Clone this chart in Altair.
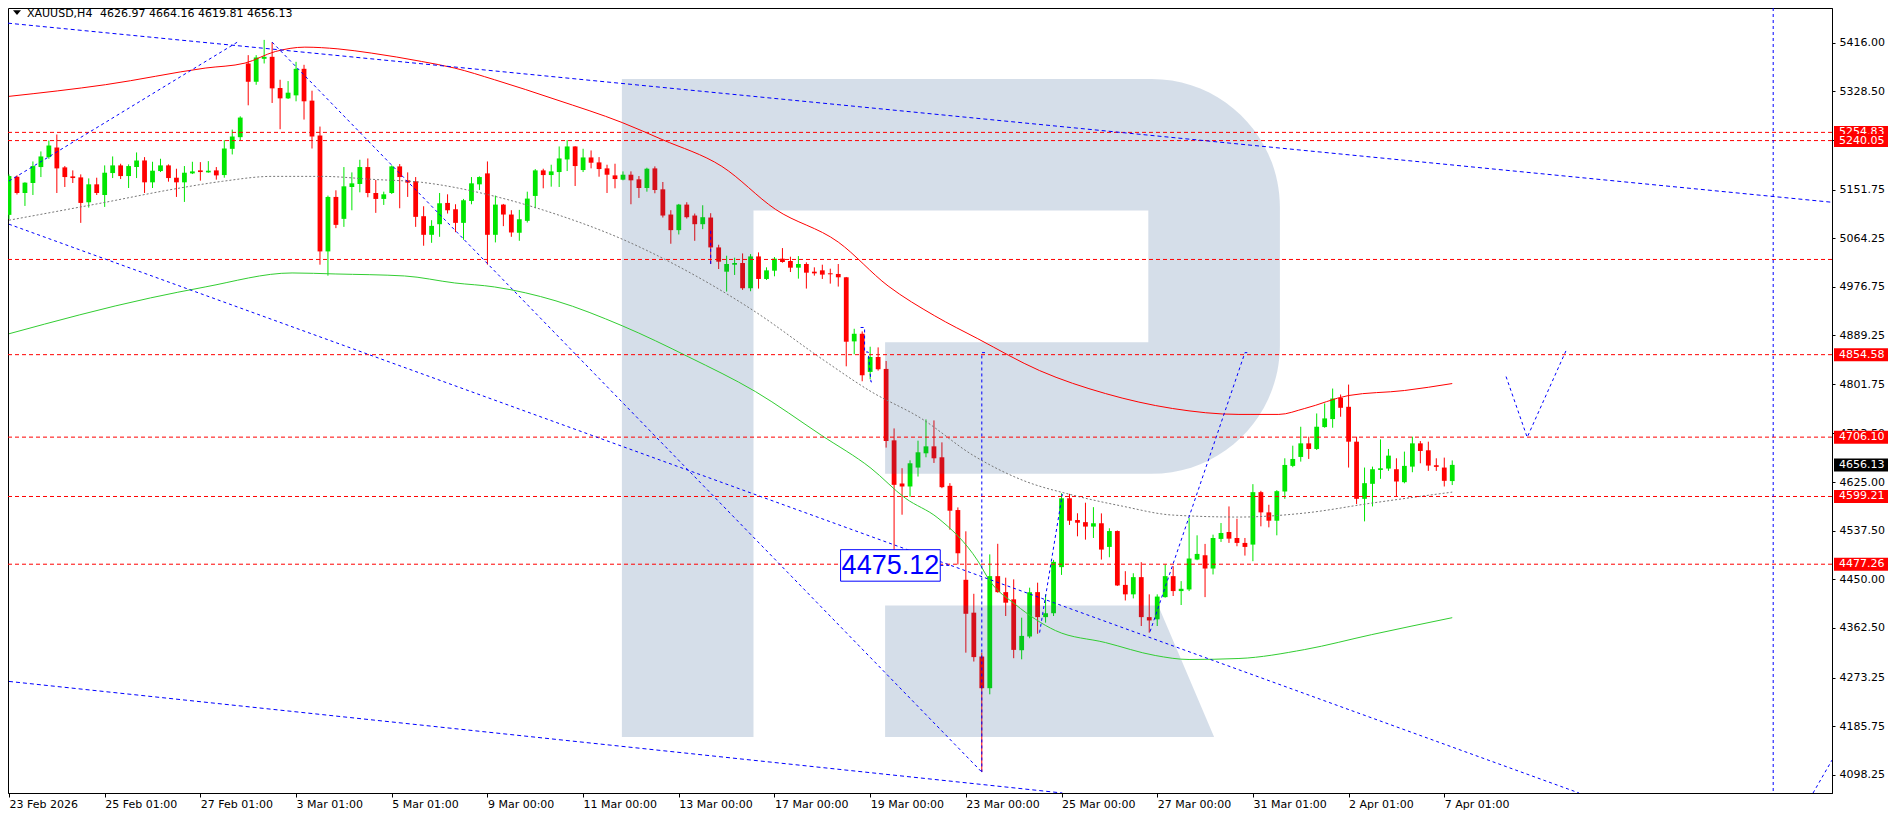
import json
import numpy as np
import pandas as pd
import altair as alt

# ---------------- data ----------------
date_labels = ["23 Feb 2026", "25 Feb 01:00", "27 Feb 01:00", "3 Mar 01:00", "5 Mar 01:00",
               "9 Mar 00:00", "11 Mar 00:00", "13 Mar 00:00", "17 Mar 00:00", "19 Mar 00:00",
               "23 Mar 00:00", "25 Mar 00:00", "27 Mar 00:00", "31 Mar 01:00", "2 Apr 01:00",
               "7 Apr 01:00"]
label_bars = [0, 12, 24, 36, 48, 60, 72, 84, 96, 108, 120, 132, 144, 156, 168, 180]

price_ticks = [5416.00, 5328.50, 5240.25, 5151.75, 5064.25, 4976.75, 4889.25, 4801.75,
               4713.50, 4625.00, 4537.50, 4450.00, 4362.50, 4273.25, 4185.75, 4098.25]

opens = [5106.3, 5175.0, 5145.7, 5163.7, 5192.4, 5210.3, 5227.6, 5191.8, 5175.6, 5173.8,
         5129.0, 5161.3, 5142.1, 5181.6, 5195.4, 5176.2, 5192.4, 5204.3, 5164.9, 5185.2,
         5195.4, 5173.2, 5164.9, 5181.0, 5186.4, 5182.8, 5186.4, 5178.0, 5225.2, 5246.2,
         5378.9, 5346.0, 5387.3, 5390.9, 5334.7, 5316.1, 5321.5, 5369.3, 5312.0, 5249.2,
         5040.5, 5138.6, 5099.1, 5156.5, 5161.9, 5192.4, 5145.7, 5135.0, 5145.7, 5193.6,
         5168.5, 5166.7, 5103.9, 5070.4, 5089.5, 5127.8, 5116.4, 5091.9, 5131.4, 5161.3,
         5181.0, 5070.4, 5124.8, 5106.9, 5074.0, 5095.5, 5140.4, 5186.4, 5178.0, 5183.4,
         5206.1, 5229.5, 5187.0, 5209.7, 5200.8, 5190.0, 5177.4, 5169.7, 5178.6, 5170.3,
         5154.7, 5190.0, 5152.3, 5106.9, 5078.8, 5124.8, 5105.1, 5089.5, 5101.5, 5047.7,
         5004.0, 5016.6, 5019.6, 4974.2, 5031.5, 4990.9, 5005.8, 5027.4, 5023.2, 5011.2,
         5017.8, 5004.0, 5006.4, 5001.0, 4999.9, 4993.9, 4878.5, 4892.2, 4823.5, 4850.4,
         4828.9, 4700.3, 4622.6, 4617.2, 4651.3, 4677.0, 4689.5, 4669.8, 4618.4, 4574.8,
         4449.2, 4390.0, 4311.0, 4254.0, 4455.8, 4427.0, 4414.0, 4322.4, 4347.0, 4427.0,
         4382.0, 4389.0, 4472.0, 4596.0, 4556.8, 4553.0, 4545.0, 4551.0, 4508.4, 4537.0,
         4440.0, 4423.0, 4454.0, 4382.0, 4378.0, 4418.0, 4455.8, 4428.9, 4431.8, 4485.7,
         4493.4, 4469.5, 4522.8, 4535.3, 4524.5, 4515.6, 4512.6, 4607.0, 4570.6, 4555.6,
         4608.2, 4654.3, 4670.4, 4694.9, 4684.8, 4724.2, 4738.6, 4776.8, 4760.7, 4697.9,
         4595.0, 4622.0, 4647.0, 4649.5, 4648.3, 4625.0, 4653.0, 4694.9, 4682.4, 4655.5,
         4651.3, 4626.97]
highs = [5179.2, 5177.4, 5165.0, 5202.5, 5220.5, 5240.2, 5251.0, 5194.2, 5186.4, 5179.2,
         5172.0, 5173.2, 5195.4, 5211.5, 5198.4, 5197.2, 5218.7, 5210.3, 5201.9, 5207.3,
         5197.2, 5189.4, 5194.2, 5201.9, 5201.3, 5203.1, 5192.4, 5240.8, 5259.9, 5283.8,
         5393.9, 5393.9, 5421.4, 5417.2, 5349.6, 5347.2, 5381.9, 5376.5, 5329.9, 5265.3,
         5141.0, 5150.5, 5192.4, 5182.8, 5205.5, 5207.9, 5169.1, 5148.1, 5195.4, 5197.8,
         5182.8, 5174.4, 5121.8, 5096.7, 5145.7, 5143.3, 5125.4, 5135.0, 5174.4, 5175.6,
         5202.5, 5141.0, 5126.0, 5114.7, 5115.3, 5148.1, 5188.8, 5189.4, 5196.6, 5229.5,
         5240.8, 5230.0, 5225.3, 5222.3, 5210.3, 5196.6, 5198.4, 5184.6, 5184.6, 5176.2,
         5191.2, 5193.6, 5165.5, 5114.7, 5126.0, 5129.0, 5108.7, 5123.6, 5109.3, 5052.5,
         5032.7, 5029.2, 5036.9, 5035.7, 5038.7, 5011.8, 5030.4, 5046.5, 5031.0, 5032.1,
         5020.8, 5011.8, 5016.6, 5009.4, 5017.8, 4994.5, 4901.2, 4896.4, 4868.9, 4867.7,
         4843.2, 4721.8, 4650.1, 4664.4, 4699.7, 4738.0, 4736.2, 4696.7, 4623.2, 4579.5,
         4536.5, 4424.0, 4318.0, 4495.0, 4514.0, 4453.0, 4450.0, 4381.0, 4435.0, 4444.0,
         4423.0, 4485.0, 4605.0, 4604.0, 4569.0, 4588.0, 4580.0, 4568.8, 4542.0, 4538.0,
         4464.7, 4461.0, 4480.9, 4423.0, 4423.0, 4476.7, 4473.7, 4446.8, 4560.4, 4529.3,
         4513.8, 4530.5, 4551.4, 4581.3, 4559.2, 4524.5, 4621.4, 4609.4, 4584.3, 4610.6,
         4668.0, 4690.7, 4724.8, 4706.9, 4748.7, 4766.7, 4793.6, 4782.8, 4800.7, 4706.9,
         4651.3, 4653.0, 4702.0, 4684.8, 4668.0, 4680.0, 4706.9, 4699.0, 4697.9, 4668.0,
         4669.2, 4664.16]
lows = [5098.5, 5143.0, 5122.4, 5142.1, 5174.4, 5207.3, 5145.7, 5156.5, 5163.7, 5091.9,
        5119.4, 5142.1, 5120.6, 5172.6, 5170.8, 5154.7, 5172.6, 5145.7, 5154.7, 5183.4,
        5166.1, 5138.6, 5129.6, 5179.8, 5167.9, 5182.2, 5169.7, 5173.2, 5215.1, 5240.2,
        5303.6, 5340.6, 5378.9, 5307.8, 5260.5, 5314.9, 5310.8, 5277.9, 5225.8, 5016.6,
        4996.9, 5082.4, 5084.7, 5114.6, 5146.9, 5138.0, 5109.9, 5124.2, 5143.9, 5118.2,
        5138.6, 5084.7, 5050.7, 5056.0, 5066.8, 5108.7, 5075.2, 5061.4, 5125.4, 5151.1,
        5016.6, 5056.7, 5086.0, 5066.8, 5059.6, 5092.5, 5118.2, 5154.1, 5157.1, 5156.5,
        5185.2, 5158.3, 5183.4, 5190.0, 5175.0, 5145.7, 5154.1, 5168.5, 5125.4, 5136.8,
        5148.1, 5145.2, 5101.5, 5054.3, 5071.0, 5099.7, 5059.6, 5080.6, 5017.8, 5008.8,
        4968.2, 4998.1, 4971.2, 4968.8, 4973.6, 4989.1, 4995.7, 5020.2, 5003.4, 4991.5,
        4973.6, 4996.9, 4990.9, 4982.5, 4977.2, 4833.6, 4855.2, 4806.7, 4810.3, 4825.9,
        4687.2, 4500.6, 4566.4, 4598.7, 4635.1, 4669.8, 4659.6, 4614.2, 4539.5, 4476.7,
        4318.0, 4302.0, 4103.0, 4243.0, 4426.0, 4384.0, 4308.0, 4306.0, 4344.0, 4352.0,
        4372.0, 4384.0, 4458.0, 4548.0, 4527.5, 4521.5, 4524.5, 4485.6, 4489.8, 4438.0,
        4412.0, 4415.7, 4366.0, 4354.0, 4366.0, 4417.0, 4420.0, 4403.8, 4428.9, 4484.5,
        4418.0, 4458.8, 4517.4, 4515.6, 4509.6, 4492.8, 4482.7, 4545.5, 4543.7, 4529.3,
        4595.0, 4652.0, 4662.0, 4666.8, 4683.0, 4723.0, 4723.0, 4742.8, 4651.3, 4585.5,
        4554.4, 4581.3, 4631.0, 4645.3, 4599.3, 4623.0, 4642.9, 4659.0, 4645.3, 4645.3,
        4617.2, 4619.81]
closes = [5176.2, 5145.7, 5164.3, 5194.2, 5211.5, 5231.2, 5190.0, 5174.4, 5172.6, 5127.8,
          5161.3, 5145.7, 5182.2, 5195.4, 5176.2, 5194.2, 5204.3, 5164.9, 5185.8, 5195.4,
          5172.6, 5164.9, 5182.2, 5184.6, 5183.4, 5185.8, 5177.4, 5225.8, 5247.4, 5281.5,
          5346.0, 5389.7, 5390.9, 5334.1, 5316.1, 5326.3, 5369.3, 5310.8, 5247.4, 5040.5,
          5138.6, 5088.3, 5157.7, 5163.1, 5192.4, 5145.7, 5135.0, 5143.3, 5193.6, 5174.4,
          5164.3, 5102.7, 5070.4, 5086.5, 5127.2, 5114.6, 5091.9, 5132.6, 5163.1, 5174.4,
          5070.4, 5124.8, 5106.9, 5074.6, 5098.5, 5135.6, 5186.4, 5178.0, 5184.6, 5207.9,
          5229.5, 5194.2, 5209.7, 5200.2, 5188.8, 5178.6, 5170.8, 5178.6, 5168.5, 5154.7,
          5189.4, 5151.1, 5105.1, 5078.8, 5124.8, 5102.1, 5089.5, 5102.1, 5047.7, 5022.0,
          5017.8, 5019.6, 4974.2, 5031.5, 4990.9, 5006.4, 5027.4, 5021.4, 5011.2, 5017.8,
          5002.2, 5001.0, 4998.7, 4999.3, 4993.9, 4877.9, 4892.2, 4817.5, 4850.4, 4828.3,
          4699.1, 4620.2, 4617.2, 4659.0, 4678.8, 4689.5, 4668.0, 4616.0, 4573.6, 4497.0,
          4388.0, 4310.0, 4254.0, 4455.8, 4427.0, 4408.0, 4323.0, 4348.2, 4427.0, 4382.0,
          4389.0, 4481.5, 4596.0, 4555.6, 4552.0, 4545.0, 4551.0, 4503.6, 4537.0, 4439.0,
          4423.0, 4454.0, 4382.0, 4376.0, 4419.0, 4455.8, 4428.9, 4433.0, 4487.5, 4495.8,
          4469.5, 4524.5, 4533.5, 4523.3, 4515.6, 4508.4, 4607.0, 4570.6, 4555.6, 4608.8,
          4656.0, 4666.8, 4694.9, 4684.8, 4724.8, 4739.8, 4775.6, 4758.9, 4697.9, 4595.0,
          4623.2, 4648.3, 4650.0, 4672.8, 4626.2, 4654.3, 4694.9, 4681.2, 4654.9, 4652.5,
          4627.4, 4656.13]

# moving averages (bar index, price)
red_ma_i = [0, 12.1, 24.6, 29.6, 33.4, 37.1, 41.25, 45.5, 51.75, 55.9, 60.9, 68.6, 76.9, 81.9,
            89.4, 96.1, 104, 110.25, 116.1, 121.5, 129.25, 137.5, 145.9, 154.25, 159.25, 162.5,
            168, 175, 181]
red_ma_p = [5319.7, 5340.7, 5370.6, 5379.6, 5400.4, 5408.3, 5405.2, 5397.5, 5382.5, 5370.6,
            5349.6, 5313.8, 5272.5, 5242.0, 5193.6, 5116.5, 5057.3, 4978.3, 4924.5, 4883.3,
            4825.9, 4784.6, 4757.7, 4747.0, 4747.0, 4757.7, 4781.0, 4790.0, 4802.6]
green_ma_i = [0, 17.75, 24.6, 35.5, 40.9, 49.6, 55.9, 60.9, 68.6, 76.9, 85.25, 93.6, 101.9,
              108.1, 112.4, 116.5, 121.5, 123, 126.25, 131.25, 137.5, 143.75, 148, 154.25,
              162.5, 170.9, 181]
green_ma_p = [4892.2, 4956.8, 4976.5, 5001.7, 4999.9, 4996.3, 4983.7, 4976.5, 4951.4, 4906.6,
              4850.4, 4788.2, 4709.3, 4650.1, 4596.3, 4560.4, 4483.3, 4447.4, 4404.4, 4357.7,
              4336.2, 4312.9, 4305.7, 4307.5, 4323.6, 4350.5, 4381.0]
gray_ma_i = [0, 12.1, 20.5, 26.75, 33, 39.25, 45.5, 51.75, 60.9, 68.6, 76.9, 85.25, 93.6,
             101.9, 108.1, 114.4, 120.9, 127.1, 133.4, 139.6, 145.9, 154.25, 162.5, 170.9, 181]
gray_ma_p = [5096.7, 5129.0, 5152.3, 5166.7, 5175.6, 5175.6, 5170.3, 5164.9, 5139.8, 5107.5,
             5062.6, 5003.4, 4931.7, 4847.4, 4788.2, 4739.8, 4673.4, 4628.6, 4601.7, 4581.9,
             4565.8, 4562.2, 4569.4, 4587.3, 4607.1]

# hand-drawn objects (bar index, price)
dashed_lines = {
    "A": ([-0.125, 228.625], [5451.5, 5129.0]),
    "E": ([0, 132.1], [4266.2, 4065.3]),
}
dotted_lines = {
    "B": ([0, 28.75], [5167.2, 5418.3]),
    "C": ([33, 122], [5417.3, 4103.0]),
    "D": ([0, 196.9], [5089.5, 4065.3]),
    "F": ([226.25, 228.625], [4065.3, 4124.5]),
    "G": ([122.4, 122, 122], [4858.2, 4858.2, 4103.0]),
    "H1": ([129.25, 132.1], [4354.1, 4603.5]),
    "H2": ([143.1, 155, 155.5], [4355.9, 4858.2, 4858.2]),
    "M1": ([88, 88], [5077.6, 5017.8]),
    "M2": ([106.8, 107.3, 107.3, 107.75, 108.1, 108.4],
           [4903.5, 4903.5, 4859.4, 4859.4, 4805.6, 4805.6]),
    "Z": ([187.75, 190.4, 195.4], [4815.1, 4705.7, 4866.0]),
    "T": ([116.8, 118.1], [4475.12, 4475.12]),
}
vline_bar = [221.25]

level_prices = [5254.83, 5240.05, 5026.0, 4854.58, 4706.10, 4599.21, 4477.26]
tag_prices = [5254.83, 5240.05, 4854.58, 4706.10, 4599.21, 4477.26, 4656.13]
tag_colors = ["#ff0000", "#ff0000", "#ff0000", "#ff0000", "#ff0000", "#ff0000", "#000000"]

note_text = ["4475.12"]
note_box_i = [104.29, 116.79]
note_box_p = [4446.7, 4503.4]

title_symbol = ["XAUUSD,H4"]
title_quote = ["4626.97 4664.16 4619.81 4656.13"]

# ---------------- chart ----------------
W, H = 1824, 785
xs = alt.Scale(domain=[-0.125, 228.625], nice=False, zero=False)
ys = alt.Scale(domain=[4065.3, 5478.8], nice=False, zero=False)
PX_PER_UNIT = H / (5478.8 - 4065.3)
TAG_HALF = 6.5 / PX_PER_UNIT
GREEN, RED, BLUE = "#00e600", "#ff0000", "#0000ff"
FONT = "DejaVu Sans"

lbl_expr = json.dumps(date_labels) + "[round(datum.value/12)]"
x_axis = alt.Axis(values=label_bars, labelExpr=lbl_expr, orient="bottom", tickSize=4,
                  labelAlign="left", labelBaseline="top", labelPadding=1, labelFont=FONT,
                  labelFontSize=11, labelColor="black", tickColor="black", domainColor="black",
                  grid=False, title=None, labelOverlap=False, labelFlush=False)
y_axis = alt.Axis(values=price_ticks, format=".2f", orient="right", tickSize=3, labelPadding=4,
                  labelFont=FONT, labelFontSize=11, labelColor="black", tickColor="black",
                  domainColor="black", grid=False, title=None, labelOverlap=False,
                  labelFlush=False)


def X(f):
    return alt.X(f, scale=xs, axis=x_axis)


def Y(f):
    return alt.Y(f, scale=ys, axis=y_axis)


n = len(opens)
cd = pd.DataFrame({"i": np.arange(n), "o": opens, "h": highs, "l": lows, "c": closes})
cd["col"] = np.where(cd.c >= cd.o, GREEN, RED)
cd["blo"] = cd[["o", "c"]].min(axis=1)
cd["bhi"] = np.maximum(cd[["o", "c"]].max(axis=1), cd["blo"] + 1.8)
cd["x1"] = cd.i - 0.3
cd["x2"] = cd.i + 0.3

wicks = alt.Chart(cd).mark_rule(strokeWidth=1).encode(
    x=X("i:Q"), y=Y("l:Q"), y2="h:Q", color=alt.Color("col:N", scale=None))
bodies = alt.Chart(cd).mark_rect().encode(
    x=X("x1:Q"), x2="x2:Q", y=Y("blo:Q"), y2="bhi:Q", color=alt.Color("col:N", scale=None))

logo_path = ("M-1,-1 L0.61,-1 A0.39,0.39 0 0 1 1,-0.61 L1,-0.19 A0.39,0.39 0 0 1 0.61,0.2 "
             "L-0.2,0.2 L-0.2,-0.2 L0.6,-0.2 L0.6,-0.6 L-0.6,-0.6 L-0.6,1 L-1,1 Z "
             "M-0.2,0.6 L0.63,0.6 L0.8,1 L-0.2,1 Z")
logo = alt.Chart(pd.DataFrame({"k": [0]})).mark_point(
    shape=logo_path, filled=True, fill="#1f4e8c", opacity=0.19, strokeWidth=0, size=433000
).encode(x=alt.value(942.9), y=alt.value(400.0))


def ma_df(ii, pp):
    return pd.DataFrame({"i": ii, "p": pp, "k": np.arange(len(ii))})


red_ma = alt.Chart(ma_df(red_ma_i, red_ma_p)).mark_line(
    color=RED, strokeWidth=1, interpolate="monotone").encode(x=X("i:Q"), y=Y("p:Q"), order="k:Q")
green_ma = alt.Chart(ma_df(green_ma_i, green_ma_p)).mark_line(
    color="#32cd32", strokeWidth=1, interpolate="monotone").encode(
    x=X("i:Q"), y=Y("p:Q"), order="k:Q")
gray_ma = alt.Chart(ma_df(gray_ma_i, gray_ma_p)).mark_line(
    color="#777777", strokeWidth=1, strokeDash=[2, 2], interpolate="monotone").encode(
    x=X("i:Q"), y=Y("p:Q"), order="k:Q")

levels = alt.Chart(pd.DataFrame({"p": level_prices})).mark_rule(
    color=RED, strokeWidth=1, strokeDash=[4, 3]).encode(y=Y("p:Q"))


def seg_df(d):
    rows = []
    for g, (ii, pp) in d.items():
        for k, (a, b) in enumerate(zip(ii, pp)):
            rows.append({"g": g, "k": k, "i": a, "p": b})
    return pd.DataFrame(rows)


dashed = alt.Chart(seg_df(dashed_lines)).mark_line(
    color=BLUE, strokeWidth=1, strokeDash=[4, 3], clip=True).encode(
    x=X("i:Q"), y=Y("p:Q"), detail="g:N", order="k:Q")
dotted = alt.Chart(seg_df(dotted_lines)).mark_line(
    color=BLUE, strokeWidth=1, strokeDash=[3, 3], clip=True).encode(
    x=X("i:Q"), y=Y("p:Q"), detail="g:N", order="k:Q")
vline = alt.Chart(pd.DataFrame({"i": vline_bar})).mark_rule(
    color=BLUE, strokeWidth=1, strokeDash=[3, 3]).encode(x=X("i:Q"))

note_df = pd.DataFrame({"i1": [note_box_i[0]], "i2": [note_box_i[1]],
                        "p1": [note_box_p[0]], "p2": [note_box_p[1]],
                        "im": [(note_box_i[0] + note_box_i[1]) / 2],
                        "pm": [(note_box_p[0] + note_box_p[1]) / 2], "t": note_text})
note_box = alt.Chart(note_df).mark_rect(fill="white", stroke=BLUE, strokeWidth=1).encode(
    x=X("i1:Q"), x2="i2:Q", y=Y("p1:Q"), y2="p2:Q")
note_txt = alt.Chart(note_df).mark_text(
    font="Liberation Sans", fontSize=27, color=BLUE, align="center", baseline="middle", dy=1
).encode(x=X("im:Q"), y=Y("pm:Q"), text="t:N")


def tag_layers(prices, colors):
    t = pd.DataFrame({"p": prices, "col": colors, "k": np.arange(len(prices))})
    t["lo"] = t.p - TAG_HALF
    t["hi"] = t.p + TAG_HALF
    t["t"] = [f"{v:.2f}" for v in prices]
    box = alt.Chart(t).mark_rect().encode(
        x=alt.value(W + 2), x2=alt.value(W + 58), y=Y("lo:Q"), y2="hi:Q",
        color=alt.Color("col:N", scale=None))
    txt = alt.Chart(t).mark_text(
        font=FONT, fontSize=11, color="white", align="left", baseline="middle").encode(
        x=alt.value(W + 7), y=Y("p:Q"), text="t:N")
    return [box, txt]


tags_first = tag_layers(tag_prices[:1], tag_colors[:1])
tags_rest = tag_layers(tag_prices[1:], tag_colors[1:])

tri = alt.Chart(pd.DataFrame({"k": [0]})).mark_point(
    shape="M-1,-0.6 L1,-0.6 L0,0.6 Z", filled=True, fill="black", strokeWidth=0, size=64,
    opacity=1).encode(x=alt.value(9), y=alt.value(4.6))
t1 = alt.Chart(pd.DataFrame({"t": title_symbol})).mark_text(
    font=FONT, fontSize=11, color="black", align="left", baseline="alphabetic").encode(
    x=alt.value(19), y=alt.value(8.7), text="t:N")
t2 = alt.Chart(pd.DataFrame({"t": title_quote})).mark_text(
    font=FONT, fontSize=11, color="black", align="left", baseline="alphabetic").encode(
    x=alt.value(92), y=alt.value(8.7), text="t:N")

chart = alt.layer(
    wicks, bodies, logo, green_ma, red_ma, gray_ma, levels, dashed, dotted, vline,
    note_box, note_txt, *tags_first, *tags_rest, tri, t1, t2
).properties(
    width=W, height=H,
    padding={"left": 0, "top": 0, "right": 56, "bottom": 18},
    autosize=alt.AutoSizeParams(type="none"),
).configure(background="white").configure_view(stroke="black", strokeWidth=1)

chart.save("out.html", embed_options={"renderer": "svg", "actions": False})
